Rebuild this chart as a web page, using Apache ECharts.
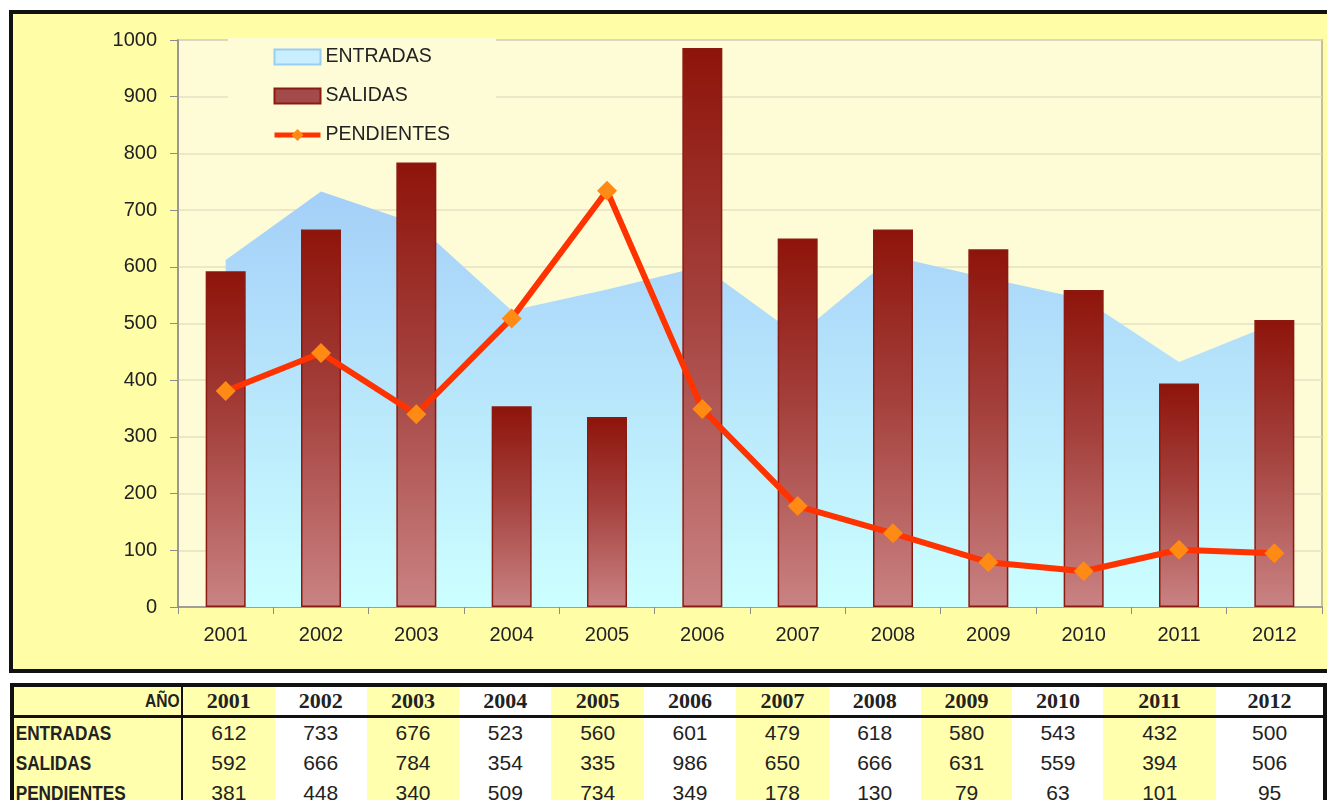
<!DOCTYPE html>
<html>
<head>
<meta charset="utf-8">
<title>ENTRADAS / SALIDAS / PENDIENTES 2001-2012</title>
<script src="https://cdn.jsdelivr.net/npm/echarts@6/dist/echarts.min.js"></script>
<style>
  html, body { margin: 0; padding: 0; background: #ffffff; overflow: hidden; }
  #chart { position: absolute; left: 0; top: 0; width: 1327px; height: 676px; }
  #tabla {
    position: absolute; left: 10px; top: 683px;
    border-collapse: collapse; table-layout: fixed;
    border: 4px solid #111;
    font-family: 'Liberation Sans', Arial, sans-serif;
    color: #222;
  }
  #tabla td, #tabla th { padding: 0; overflow: hidden; white-space: nowrap; text-align: center; }
  #tabla tr.cab th { height: 28px; border-bottom: 3px solid #111; font-family: 'Liberation Serif', 'Times New Roman', serif; font-weight: bold; font-size: 22px; }
  #tabla tr.fila td { height: 30px; font-size: 21px; }
  #tabla .etq { background: #FFFFAD; border-right: 2px solid #111; text-align: left; font-weight: bold; font-size: 19px; }
  #tabla .etq span { display: inline-block; transform: scaleX(0.82); transform-origin: left center; padding-left: 2px; }
  #tabla tr.cab th.etq { text-align: right; font-family: 'Liberation Sans', Arial, sans-serif; font-size: 19px; }
  #tabla tr.cab th.etq span { transform-origin: right center; padding-left: 0; padding-right: 2px; }
  #tabla .am { background: #FFFFAD; }
  #tabla .bl { background: #FFFFFF; }
</style>
</head>
<body>
<div id="chart"></div>
<table id="tabla"></table>
<script>
// Años y valores de cada serie
const anios = ['2001', '2002', '2003', '2004', '2005', '2006', '2007', '2008', '2009', '2010', '2011', '2012'];
const entradas = [612, 733, 676, 523, 560, 601, 479, 618, 580, 543, 432, 500];
const salidas = [592, 666, 784, 354, 335, 986, 650, 666, 631, 559, 394, 506];
const pendientes = [381, 448, 340, 509, 734, 349, 178, 130, 79, 63, 101, 95];
const nombres = ['ENTRADAS', 'SALIDAS', 'PENDIENTES'];
const ejeY = { min: 0, max: 1000, intervalo: 100 };

const grad = (stops) => new echarts.graphic.LinearGradient(0, 0, 0, 1,
  stops.map(([offset, color]) => ({ offset, color })));

const chart = echarts.init(document.getElementById('chart'), null, { renderer: 'canvas' });

const fuente = "'Liberation Sans', Arial, sans-serif";

chart.setOption({
  animation: false,
  graphic: [{
    type: 'rect',
    z: -10,
    silent: true,
    shape: { x: 11, y: 12, width: 1340, height: 659 },
    style: { fill: '#FFFDA6', stroke: '#111111', lineWidth: 4 }
  }],
  grid: {
    left: 178, right: 5, top: 40, bottom: 69,
    show: true,
    backgroundColor: '#FEFCD6',
    borderColor: '#AEAC8E',
    borderWidth: 1.5
  },
  legend: {
    orient: 'vertical',
    left: 228, top: 38,
    padding: [9, 46, 6, 44],
    backgroundColor: '#FEFCD6',
    itemWidth: 46, itemHeight: 15, itemGap: 19,
    textStyle: { fontFamily: fuente, fontSize: 19.5, color: '#222', lineHeight: 18 },
    data: [
      { name: nombres[0], icon: 'rect', itemStyle: { color: '#C9EEFF', borderColor: '#98CDF4', borderWidth: 2 } },
      { name: nombres[1], icon: 'rect', itemStyle: { color: '#A34A4A', borderColor: '#8B1A10', borderWidth: 2 } },
      { name: nombres[2], lineStyle: { width: 5, color: '#FF3300' }, itemStyle: { color: '#FF8A14' } }
    ]
  },
  xAxis: {
    type: 'category',
    data: anios,
    boundaryGap: true,
    axisLine: { lineStyle: { color: '#8C8C8C', width: 1.5 } },
    axisTick: { show: true, length: 7, interval: 0, lineStyle: { color: '#8C8C8C' } },
    axisLabel: { fontFamily: fuente, fontSize: 20, color: '#222', margin: 18 },
    splitLine: { show: false }
  },
  yAxis: {
    type: 'value',
    min: ejeY.min, max: ejeY.max, interval: ejeY.intervalo,
    axisLine: { show: true, lineStyle: { color: '#8C8C8C', width: 1.5 } },
    axisTick: { show: true, length: 8, lineStyle: { color: '#8C8C8C' } },
    axisLabel: { fontFamily: fuente, fontSize: 20, color: '#222', margin: 21, formatter: (v) => String(v) },
    splitLine: { lineStyle: { color: '#E4E2C6', width: 1.5 } }
  },
  series: [
    {
      name: nombres[0],
      type: 'line',
      data: entradas,
      symbol: 'none',
      lineStyle: { width: 0, color: '#A8D4F8' },
      itemStyle: { color: '#A8D4F8' },
      areaStyle: { color: grad([[0, '#A4CFF8'], [1, '#CCFFFF']]), opacity: 1 },
      z: 1
    },
    {
      name: nombres[1],
      type: 'bar',
      data: salidas,
      barWidth: 40,
      itemStyle: {
        color: grad([[0, '#8E140A'], [0.45, '#A4403C'], [1, '#C98383']]),
        borderColor: '#8B1A10',
        borderWidth: 1.5
      },
      z: 2
    },
    {
      name: nombres[2],
      type: 'line',
      data: pendientes,
      symbol: 'diamond',
      symbolSize: 20,
      lineStyle: { width: 6, color: '#FF3300' },
      itemStyle: { color: '#FF8A14', borderWidth: 0 },
      z: 3
    }
  ]
});

// Tabla de datos bajo el gráfico
const anchos = [170, 93, 92, 93, 92, 93, 92, 93, 92, 92, 91, 113, 109];
const tabla = document.getElementById('tabla');
const cg = document.createElement('colgroup');
anchos.forEach(w => { const c = document.createElement('col'); c.style.width = w + 'px'; cg.appendChild(c); });
tabla.appendChild(cg);

const cab = document.createElement('tr');
cab.className = 'cab';
const th0 = document.createElement('th');
th0.className = 'etq';
th0.innerHTML = '<span>AÑO</span>';
cab.appendChild(th0);
anios.forEach((a, i) => {
  const th = document.createElement('th');
  th.className = i % 2 === 0 ? 'am' : 'bl';
  th.textContent = a;
  cab.appendChild(th);
});
tabla.appendChild(cab);

[entradas, salidas, pendientes].forEach((serie, k) => {
  const tr = document.createElement('tr');
  tr.className = 'fila';
  const td0 = document.createElement('td');
  td0.className = 'etq';
  td0.innerHTML = '<span>' + nombres[k] + '</span>';
  tr.appendChild(td0);
  serie.forEach((v, i) => {
    const td = document.createElement('td');
    td.className = i % 2 === 0 ? 'am' : 'bl';
    td.textContent = v;
    tr.appendChild(td);
  });
  tabla.appendChild(tr);
});
</script>
</body>
</html>
